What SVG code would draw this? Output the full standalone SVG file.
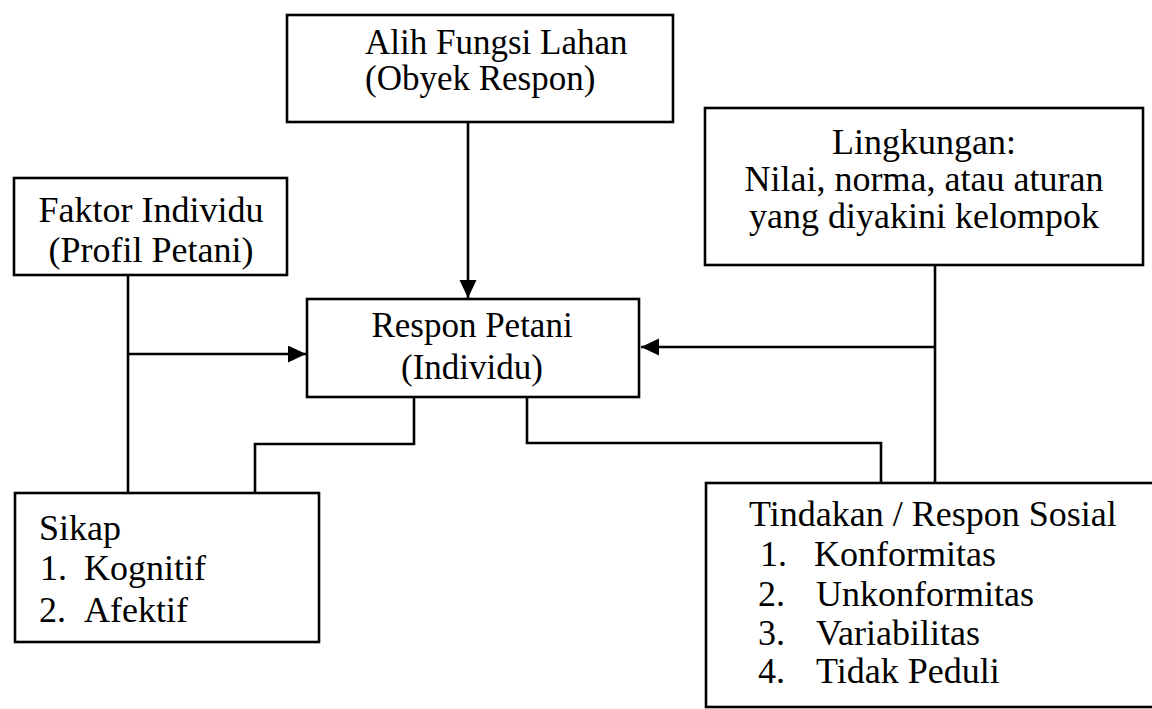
<svg xmlns="http://www.w3.org/2000/svg" width="1152" height="709" viewBox="0 0 1152 709">
<style>
.box{fill:#fff;stroke:#000;stroke-width:2.6}
.t{font-family:"Liberation Serif","Times New Roman",serif;font-size:36px;fill:#000}
.s{font-size:35px}
.m{text-anchor:middle}
.c{fill:none;stroke:#000;stroke-width:2.6}
</style>
<defs>
<marker id="ah" markerUnits="userSpaceOnUse" markerWidth="19" markerHeight="18" refX="18" refY="8.5" orient="auto">
<path d="M0,0 L18,8.5 L0,17 z" fill="#000"/>
</marker>
</defs>
<rect width="1152" height="709" fill="#fff"/>
<g id="connectors">
<path class="c" d="M128,276 V493"/>
<path class="c" d="M128,354 H306" marker-end="url(#ah)"/>
<path class="c" d="M468,122 V298" marker-end="url(#ah)"/>
<path class="c" d="M935,265 V483"/>
<path class="c" d="M935,347 H641" marker-end="url(#ah)"/>
<path class="c" d="M414,397 V444 H255 V493"/>
<path class="c" d="M527,397 V443 H881 V483"/>
</g>
<g id="alih">
<rect class="box" x="287" y="15" width="386" height="107"/>
<text class="t s" x="365" y="54">Alih Fungsi Lahan</text>
<text class="t s" x="365" y="90">(Obyek Respon)</text>
</g>
<g id="faktor">
<rect class="box" x="14" y="178" width="273" height="97"/>
<text class="t m" x="151" y="222">Faktor Individu</text>
<text class="t m" x="151" y="262">(Profil Petani)</text>
</g>
<g id="lingkungan">
<rect class="box" x="705" y="108" width="438" height="157"/>
<text class="t m" x="924" y="154">Lingkungan:</text>
<text class="t m" x="924" y="191">Nilai, norma, atau aturan</text>
<text class="t m" x="924" y="228">yang diyakini kelompok</text>
</g>
<g id="respon">
<rect class="box" x="307" y="299" width="332" height="98"/>
<text class="t s m" x="472" y="337">Respon Petani</text>
<text class="t s m" x="472" y="379">(Individu)</text>
</g>
<g id="sikap">
<rect class="box" x="15" y="493" width="304" height="149"/>
<text class="t" x="39" y="540">Sikap</text>
<text class="t" y="580"><tspan x="40">1.</tspan><tspan x="84">Kognitif</tspan></text>
<text class="t" y="622"><tspan x="39">2.</tspan><tspan x="84">Afektif</tspan></text>
</g>
<g id="tindakan">
<rect class="box" x="706" y="483" width="470" height="224"/>
<text class="t" x="749" y="526">Tindakan / Respon Sosial</text>
<text class="t" y="566"><tspan x="760">1.</tspan><tspan x="814">Konformitas</tspan></text>
<text class="t" y="606"><tspan x="758">2.</tspan><tspan x="816">Unkonformitas</tspan></text>
<text class="t" y="645"><tspan x="758">3.</tspan><tspan x="816">Variabilitas</tspan></text>
<text class="t" y="683"><tspan x="758">4.</tspan><tspan x="816">Tidak Peduli</tspan></text>
</g>
</svg>
